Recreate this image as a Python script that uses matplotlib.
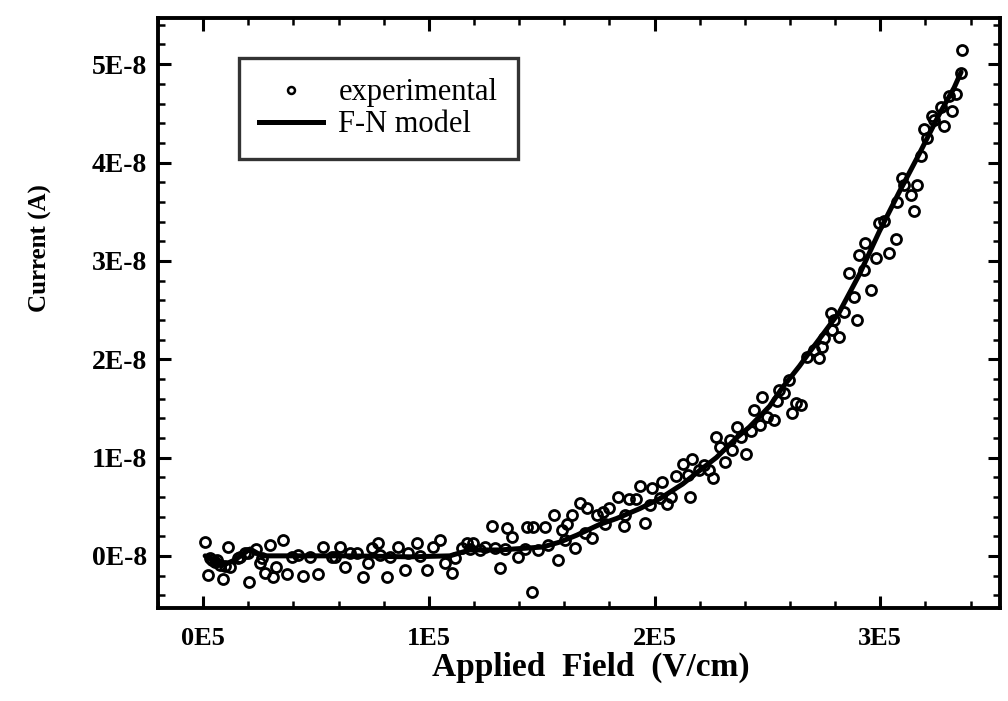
import numpy as np
import matplotlib
matplotlib.use("Agg")
import matplotlib.pyplot as plt
from matplotlib.ticker import FuncFormatter, MultipleLocator
from matplotlib.lines import Line2D

# Measured emission current versus applied field (field in 1E5 V/cm, current in 1E-8 A)
field_e5 = [
    0.009, 0.022, 0.031, 0.040, 0.053, 0.062, 0.075, 0.088, 0.097, 0.111,
    0.119, 0.155, 0.164, 0.186, 0.199, 0.204, 0.235, 0.252, 0.261, 0.274,
    0.296, 0.310, 0.323, 0.354, 0.372, 0.394, 0.420, 0.442, 0.473, 0.509,
    0.531, 0.571, 0.584, 0.606, 0.628, 0.650, 0.681, 0.708, 0.730, 0.748,
    0.774, 0.783, 0.814, 0.827, 0.863, 0.894, 0.907, 0.947, 0.960, 0.991,
    1.018, 1.049, 1.071, 1.102, 1.115, 1.146, 1.168, 1.181, 1.195, 1.226,
    1.248, 1.279, 1.292, 1.314, 1.336, 1.345, 1.367, 1.394, 1.425, 1.434,
    1.456, 1.460, 1.482, 1.513, 1.527, 1.553, 1.571, 1.588, 1.602, 1.611,
    1.633, 1.646, 1.668, 1.690, 1.699, 1.721, 1.743, 1.770, 1.779, 1.796,
    1.836, 1.863, 1.867, 1.885, 1.916, 1.934, 1.956, 1.978, 1.987, 2.022,
    2.035, 2.053, 2.075, 2.097, 2.124, 2.146, 2.155, 2.168, 2.199, 2.221,
    2.243, 2.257, 2.274, 2.288, 2.310, 2.332, 2.341, 2.363, 2.385, 2.407,
    2.429, 2.442, 2.465, 2.478, 2.500, 2.531, 2.544, 2.553, 2.575, 2.597,
    2.611, 2.628, 2.650, 2.677, 2.708, 2.730, 2.743, 2.752, 2.783, 2.788,
    2.796, 2.819, 2.841, 2.863, 2.885, 2.898, 2.907, 2.929, 2.934, 2.960,
    2.982, 2.996, 3.018, 3.040, 3.071, 3.075, 3.097, 3.106, 3.137, 3.150,
    3.164, 3.181, 3.195, 3.208, 3.230, 3.239, 3.270, 3.283, 3.305, 3.319,
    3.336, 3.358, 3.363,
]
current_e8 = [
    0.14, -0.19, -0.02, -0.04, -0.06, -0.04, -0.09, -0.24, -0.10, 0.09,
    -0.11, -0.02, -0.01, 0.03, 0.03, -0.27, 0.07, -0.07, -0.02, -0.17,
    0.11, -0.22, -0.11, 0.16, -0.18, -0.01, 0.01, -0.20, -0.01, -0.18,
    0.09, -0.01, -0.01, 0.09, -0.11, 0.03, 0.03, -0.21, -0.07, 0.08,
    0.13, 0.01, -0.22, -0.01, 0.09, -0.14, 0.03, 0.13, 0.00, -0.14,
    0.09, 0.16, -0.07, -0.17, -0.02, 0.08, 0.13, 0.07, 0.13, 0.06,
    0.09, 0.30, 0.08, -0.12, 0.07, 0.28, 0.19, -0.01, 0.07, 0.29,
    -0.37, 0.29, 0.06, 0.29, 0.11, 0.42, -0.04, 0.26, 0.16, 0.32,
    0.42, 0.08, 0.54, 0.23, 0.49, 0.18, 0.42, 0.45, 0.32, 0.49,
    0.60, 0.30, 0.42, 0.58, 0.58, 0.71, 0.33, 0.52, 0.69, 0.59,
    0.75, 0.53, 0.60, 0.81, 0.93, 0.82, 0.60, 0.98, 0.87, 0.92,
    0.87, 0.79, 1.21, 1.11, 0.95, 1.18, 1.08, 1.31, 1.21, 1.04,
    1.27, 1.48, 1.33, 1.62, 1.41, 1.38, 1.57, 1.69, 1.66, 1.79,
    1.45, 1.55, 1.53, 2.02, 2.09, 2.01, 2.12, 2.22, 2.47, 2.30,
    2.40, 2.23, 2.48, 2.88, 2.63, 2.40, 3.06, 2.91, 3.18, 2.70,
    3.03, 3.38, 3.41, 3.08, 3.22, 3.60, 3.84, 3.77, 3.67, 3.51,
    3.77, 4.07, 4.34, 4.25, 4.47, 4.43, 4.56, 4.37, 4.68, 4.52,
    4.70, 4.91, 5.14,
]

# Fowler-Nordheim model curve (same units)
model_field_e5 = [
    0.009, 0.040, 0.084, 0.142, 0.208, 0.261, 0.429, 0.650, 0.916, 1.093,
    1.181, 1.314, 1.504, 1.580, 1.655, 1.757, 1.832, 1.934, 2.022, 2.124,
    2.212, 2.274, 2.363, 2.420, 2.509, 2.566, 2.642, 2.686, 2.761, 2.819,
    2.907, 2.996, 3.084, 3.173, 3.261, 3.327, 3.358,
]
model_current_e8 = [
    0.00, -0.04, -0.10, -0.04, 0.07, 0.00, 0.00, 0.00, -0.01, 0.00,
    0.06, 0.06, 0.09, 0.14, 0.21, 0.32, 0.38, 0.48, 0.58, 0.73,
    0.89, 1.00, 1.20, 1.31, 1.52, 1.71, 1.93, 2.07, 2.30, 2.48,
    2.86, 3.30, 3.70, 4.09, 4.49, 4.76, 4.92,
]

x_tick_e5 = [0, 1, 2, 3]
y_tick_e8 = [0, 1, 2, 3, 4, 5]

field = np.array(field_e5) * 1e5
current = np.array(current_e8) * 1e-8
model_field = np.array(model_field_e5) * 1e5
model_current = np.array(model_current_e8) * 1e-8

serif = ["Liberation Serif", "DejaVu Serif"]
plt.rcParams["font.family"] = serif

fig = plt.figure(figsize=(10.08, 7.01), dpi=100)
ax = fig.add_axes([0.1567, 0.1327, 0.8353, 0.8417])

ax.plot(model_field, model_current, color="black", lw=3.6,
        solid_capstyle="round", solid_joinstyle="round", zorder=2)
ax.plot(field, current, ls="none", marker="o", ms=7.2, mfc="none",
        mec="black", mew=2.0, zorder=3)

ax.set_xlim(-0.2e5, 3.53e5)
ax.set_ylim(-0.53e-8, 5.47e-8)

ax.set_xticks(np.array(x_tick_e5) * 1e5)
ax.set_yticks(np.array(y_tick_e8) * 1e-8)
ax.xaxis.set_major_formatter(FuncFormatter(lambda v, _: f"{v / 1e5:.0f}E5"))
ax.yaxis.set_major_formatter(FuncFormatter(lambda v, _: f"{v / 1e-8:.0f}E-8"))
ax.xaxis.set_minor_locator(MultipleLocator(0.2e5))
ax.yaxis.set_minor_locator(MultipleLocator(0.2e-8))

ax.tick_params(which="both", direction="in", top=True, right=True,
               color="black")
ax.tick_params(which="major", length=9, width=2.2)
ax.tick_params(which="minor", length=5, width=1.8)
ax.tick_params(axis="x", which="major", pad=14, labelsize=19)
ax.tick_params(axis="y", which="major", pad=8, labelsize=20)
for lab in ax.get_xticklabels() + ax.get_yticklabels():
    lab.set_fontweight("bold")

for s in ax.spines.values():
    s.set_linewidth(2.8)

ax.set_xlabel("Applied  Field  (V/cm)", fontsize=24, fontweight="bold")
ax.set_ylabel("Current (A)", fontsize=18, fontweight="bold")
ax.xaxis.set_label_coords(0.514, -0.074)
ax.yaxis.set_label_coords(-0.126, 0.61)

handles = [
    Line2D([], [], ls="none", marker="o", ms=5, mfc="none", mec="black", mew=1.8),
    Line2D([], [], color="black", lw=3.6),
]
leg = ax.legend(handles, ["experimental", "F-N model"], loc="upper left",
                bbox_to_anchor=(0.096, 0.932), borderaxespad=0,
                fontsize=22, frameon=True, fancybox=False, numpoints=1,
                handlelength=2.1, handletextpad=0.5, borderpad=0.66,
                labelspacing=0.1)
leg.get_frame().set_edgecolor("black")
leg.get_frame().set_linewidth(2.4)

fig.savefig("out.png", dpi=100)
